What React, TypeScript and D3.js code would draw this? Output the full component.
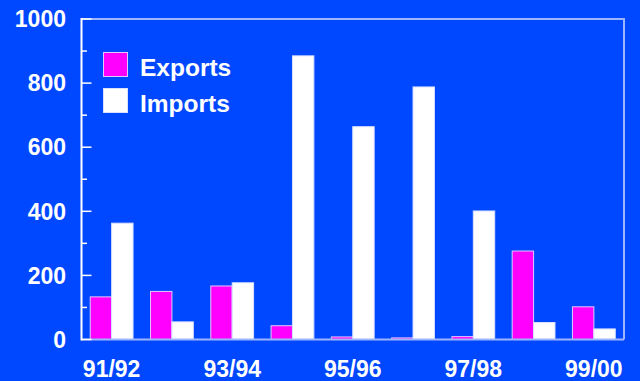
import React from "react";
import * as d3 from "d3";

const categories = ["91/92", "92/93", "93/94", "94/95", "95/96", "96/97", "97/98", "98/99", "99/00"];
const exportsValues = [133, 150, 167, 43, 8, 5, 9, 276, 102];
const importsValues = [363, 55, 177, 885, 664, 788, 401, 53, 33];
const yTicks = [0, 200, 400, 600, 800, 1000];
const yMinorTicks = [100, 300, 500, 700, 900];
const xLabels = ["91/92", "93/94", "95/96", "97/98", "99/00"];
const seriesNames = ["Exports", "Imports"];

const W = 640;
const H = 381;
const BG = "#0048FF";
const MAGENTA = "#FF00FF";
const FRAME = "#9db5ff";
const FONT = "'Liberation Sans', Arial, Helvetica, sans-serif";

export default function App() {
  const left = 81.5;
  const right = 624;
  const top = 19;
  const bottom = 339.5;

  const x = d3.scaleBand<string>().domain(categories).range([left, right]).paddingInner(0.29).paddingOuter(0.145);
  const y = d3.scaleLinear().domain([0, 1000]).range([bottom, top]);
  const bw = x.bandwidth() / 2;

  return (
    <svg width={W} height={H} style={{ position: "absolute", left: 0, top: 0, display: "block" }}>
      <rect x={0} y={0} width={W} height={H} fill={BG} />
      {/* frame top & right */}
      <path d={`M${left},${top} H${right} V${bottom}`} fill="none" stroke={FRAME} strokeWidth={2} />
      {/* bars */}
      {categories.map((c, i) => {
        const x0 = x(c)!;
        return (
          <g key={c}>
            <rect x={x0} y={y(exportsValues[i])} width={bw} height={bottom - y(exportsValues[i])}
              fill={MAGENTA} stroke="#e0c8ff" strokeWidth={1} />
            <rect x={x0 + bw} y={y(importsValues[i])} width={bw} height={bottom - y(importsValues[i])}
              fill="#FFFFFF" stroke="#d8e0ff" strokeWidth={1} />
          </g>
        );
      })}
      {/* bottom axis */}
      <line x1={left} x2={right} y1={bottom} y2={bottom} stroke={FRAME} strokeWidth={2} />
      {/* left axis */}
      <line x1={left} x2={left} y1={top - 1} y2={bottom + 1} stroke="#FFFFFF" strokeWidth={2} />
      {yTicks.map((t) => (
        <g key={t}>
          <line x1={left} x2={left + 10} y1={y(t)} y2={y(t)} stroke="#FFFFFF" strokeWidth={1.5} />
          <text x={66} y={y(t)} dy="0.36em" textAnchor="end" fill="#FFFFFF" fontFamily={FONT}
            fontWeight="bold" fontSize={23}>{t}</text>
        </g>
      ))}
      {yMinorTicks.map((t) => (
        <line key={t} x1={left} x2={left + 5.5} y1={y(t)} y2={y(t)} stroke="#FFFFFF" strokeWidth={1.5} />
      ))}
      {xLabels.map((l) => (
        <text key={l} x={x(l)! + x.bandwidth() / 2} y={376.5} textAnchor="middle" fill="#FFFFFF"
          fontFamily={FONT} fontWeight="bold" fontSize={23}>{l}</text>
      ))}
      {/* legend */}
      {seriesNames.map((s, i) => (
        <g key={s}>
          <rect x={103.5} y={52.5 + i * 36} width={24} height={24} fill={i === 0 ? MAGENTA : "#FFFFFF"}
            stroke={i === 0 ? "#e0c8ff" : "#d8e0ff"} strokeWidth={1} />
          <text x={140} y={75.5 + i * 36} fill="#FFFFFF" fontFamily={FONT} fontWeight="bold" fontSize={24.5}>{s}</text>
        </g>
      ))}
    </svg>
  );
}
